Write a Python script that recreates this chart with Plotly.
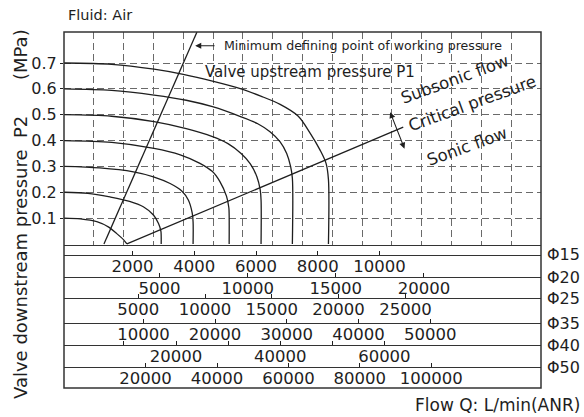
import plotly.graph_objects as go

# ---------------- data ----------------
p1_levels = [0.1, 0.2, 0.3, 0.4, 0.5, 0.6, 0.7]

# flow position (grid units of the chart) vs downstream pressure P2 (MPa), one curve per P1
q_p01 = [0.0, 0.55, 1.10, 1.50, 1.77, 2.00, 2.11]
p2_p01 = [0.100, 0.097, 0.086, 0.065, 0.040, 0.016, 0.0]

q_p02 = [0.0, 0.80, 1.54, 2.20, 2.66, 3.00, 3.17, 3.25, 3.26, 3.26]
p2_p02 = [0.200, 0.196, 0.182, 0.165, 0.144, 0.112, 0.079, 0.050, 0.030, 0.0]

q_p03 = [0.0, 1.20, 2.33, 3.00, 3.56, 3.95, 4.17, 4.30, 4.33, 4.33]
p2_p03 = [0.300, 0.294, 0.279, 0.260, 0.234, 0.205, 0.170, 0.120, 0.085, 0.0]

q_p04 = [0.0, 1.60, 3.02, 3.90, 4.56, 4.98, 5.23, 5.45, 5.53, 5.54, 5.54]
p2_p04 = [0.400, 0.393, 0.370, 0.345, 0.312, 0.280, 0.241, 0.185, 0.140, 0.110, 0.0]

q_p05 = [0.0, 1.60, 3.02, 4.10, 4.98, 5.50, 5.94, 6.25, 6.47, 6.58, 6.61, 6.61]
p2_p05 = [0.500, 0.494, 0.473, 0.446, 0.415, 0.388, 0.350, 0.310, 0.260, 0.210, 0.170, 0.0]

q_p06 = [0.0, 1.60, 3.02, 4.10, 4.98, 5.94, 6.50, 6.91, 7.25, 7.47, 7.60, 7.66, 7.66]
p2_p06 = [0.600, 0.594, 0.576, 0.556, 0.531, 0.492, 0.465, 0.434, 0.395, 0.350, 0.300, 0.255, 0.0]

q_p07 = [0.0, 1.60, 3.02, 4.00, 4.98, 5.94, 6.60, 7.25, 7.85, 8.26, 8.59, 8.79, 8.87, 8.87]
p2_p07 = [0.700, 0.695, 0.676, 0.656, 0.630, 0.600, 0.572, 0.540, 0.495, 0.428, 0.363, 0.312, 0.250, 0.0]

curve_q = [q_p01, q_p02, q_p03, q_p04, q_p05, q_p06, q_p07]
curve_p2 = [p2_p01, p2_p02, p2_p03, p2_p04, p2_p05, p2_p06, p2_p07]

critical_q = [2.11, 11.38]
critical_p2 = [0.0, 0.452]

minimum_q = [1.34, 4.46]
minimum_p2 = [0.0, 0.82]

y_tick_vals = [0.1, 0.2, 0.3, 0.4, 0.5, 0.6, 0.7]
y_tick_text = ["0.1", "0.2", "0.3", "0.4", "0.5", "0.6", "0.7"]

phi15_vals = [2000, 4000, 6000, 8000, 10000]
phi15_text = ["2000", "4000", "6000", "8000", "10000"]
phi20_vals = [5000, 10000, 15000, 20000]
phi20_text = ["5000", "10000", "15000", "20000"]
phi25_vals = [5000, 10000, 15000, 20000, 25000]
phi25_text = ["5000", "10000", "15000", "20000", "25000"]
phi35_vals = [10000, 20000, 30000, 40000, 50000]
phi35_text = ["10000", "20000", "30000", "40000", "50000"]
phi40_vals = [10000, 20000, 30000, 40000, 50000, 60000]
phi40_text = ["", "20000", "", "40000", "", "60000"]
phi50_vals = [20000, 40000, 60000, 80000, 100000]
phi50_text = ["20000", "40000", "60000", "80000", "100000"]

phi_names = ["\u03a615", "\u03a620", "\u03a625", "\u03a635", "\u03a640", "\u03a650"]

# ---------------- figure ----------------
FONT = "DejaVu Sans"
INK = "#1e1e1e"
W, H = 584, 417
L, R, T, B = 64, 43, 32, 29
plot_h = H - T - B  # 356


def py(px_y):
    """paper fraction for a pixel row inside the plot area"""
    return (H - B - px_y) / plot_h


fig = go.Figure()

for qs, ps in zip(curve_q, curve_p2):
    fig.add_trace(go.Scatter(x=qs, y=ps, mode="lines",
                             line=dict(color=INK, width=1.3, shape="spline", smoothing=0.9),
                             hoverinfo="skip", showlegend=False))

fig.add_trace(go.Scatter(x=critical_q, y=critical_p2, mode="lines",
                         line=dict(color=INK, width=1.3), hoverinfo="skip", showlegend=False))
fig.add_trace(go.Scatter(x=minimum_q, y=minimum_p2, mode="lines",
                         line=dict(color=INK, width=1.3), hoverinfo="skip", showlegend=False))

band_scales = [
    (phi15_vals, phi15_text, [-214, 15223], 255),
    (phi20_vals, phi20_text, [-426, 26646], 277),
    (phi25_vals, phi25_text, [-554, 35150], 298),
    (phi35_vals, phi35_text, [-1074, 65453], 323),
    (phi40_vals, phi40_text, [-1511, 90069], 345),
    (phi50_vals, phi50_text, [-2857, 130756], 367),
]

layout_axes = {}
annotations = []
for i, (vals, texts, rng, yline) in enumerate(band_scales):
    ax_name = "xaxis%d" % (i + 2)
    ref = "x%d" % (i + 2)
    fig.add_trace(go.Scatter(x=[vals[0]], y=[-1], xaxis=ref, yaxis="y", mode="markers",
                             marker=dict(size=0, opacity=0), hoverinfo="skip", showlegend=False))
    layout_axes[ax_name] = dict(
        overlaying="x", anchor="free", position=py(yline), side="bottom",
        range=rng, tickmode="array", tickvals=vals, ticktext=texts,
        ticks="inside", ticklen=4, tickcolor=INK, tickwidth=1,
        ticklabelstandoff=-4,
        showline=True, linecolor="#333", linewidth=1.3,
        showgrid=False, zeroline=False,
        tickfont=dict(family=FONT, size=16.5, color=INK),
    )
    annotations.append(dict(xref="paper", yref="paper", x=1.008, y=py(yline),
                            xanchor="left", yanchor="middle", showarrow=False,
                            text=phi_names[i], font=dict(family=FONT, size=16, color=INK)))

# text labels
annotations += [
    dict(xref="paper", yref="paper", x=0.004, y=py(15), xanchor="left", yanchor="middle",
         showarrow=False, text="Fluid: Air", font=dict(family=FONT, size=14.5, color=INK)),
    dict(xref="paper", yref="paper", x=(497 - L) / (W - L - R), y=py(405), xanchor="center",
         yanchor="middle", showarrow=False, text="Flow Q: L/min(ANR)",
         font=dict(family=FONT, size=17, color=INK)),
    dict(xref="paper", yref="paper", x=(20 - L) / (W - L - R), y=py(258), xanchor="center",
         yanchor="middle", showarrow=False, textangle=-90, text="Valve downstream pressure  P2",
         font=dict(family=FONT, size=18, color=INK)),
    dict(xref="paper", yref="paper", x=(20 - L) / (W - L - R), y=py(55), xanchor="center",
         yanchor="middle", showarrow=False, textangle=-90, text="(MPa)",
         font=dict(family=FONT, size=18, color=INK)),
    dict(x=5.30, y=0.767, xref="x", yref="y", xanchor="left", yanchor="middle", showarrow=False,
         text="Minimum defining point of working pressure", font=dict(family=FONT, size=12.6, color=INK)),
    dict(x=4.40, y=0.767, ax=5.10, ay=0.767, xref="x", yref="y", axref="x", ayref="y",
         text="", showarrow=True, arrowhead=2, arrowsize=1.1, arrowwidth=1.1, arrowcolor=INK),
    dict(x=4.66, y=0.665, xref="x", yref="y", xanchor="left", yanchor="middle", showarrow=False,
         text="Valve upstream pressure P1", font=dict(family=FONT, size=15, color=INK)),
    dict(x=13.09, y=0.638, xref="x", yref="y", showarrow=False, textangle=-20,
         text="Subsonic flow", font=dict(family=FONT, size=16.5, color=INK)),
    dict(x=13.69, y=0.545, xref="x", yref="y", showarrow=False, textangle=-20,
         text="Critical pressure", font=dict(family=FONT, size=16.5, color=INK)),
    dict(x=13.52, y=0.379, xref="x", yref="y", showarrow=False, textangle=-20,
         text="Sonic flow", font=dict(family=FONT, size=16.5, color=INK)),
    dict(x=10.94, y=0.51, ax=11.44, ay=0.363, xref="x", yref="y", axref="x", ayref="y",
         text="", showarrow=True, arrowhead=2, arrowside="end+start", arrowsize=1.1,
         arrowwidth=1.1, arrowcolor=INK),
]

fig.update_layout(
    width=W, height=H, autosize=False,
    margin=dict(l=L, r=R, t=T, b=B, pad=0),
    paper_bgcolor="white", plot_bgcolor="white",
    showlegend=False,
    xaxis=dict(range=[0, 16], dtick=1, tick0=0, showticklabels=False, ticks="",
               showgrid=True, gridcolor="#6a6a6a", gridwidth=1, griddash="7px,4px",
               zeroline=False, showline=True, linecolor="#333", linewidth=1.3),
    yaxis=dict(domain=[py(245), 1], range=[-0.004, 0.82], tickmode="array",
               tickvals=y_tick_vals, ticktext=y_tick_text, ticks="outside", ticklen=3,
               tickcolor=INK, showgrid=True, gridcolor="#6a6a6a", gridwidth=1,
               griddash="7px,4px", zeroline=False, showline=False,
               tickfont=dict(family=FONT, size=16, color=INK)),
    annotations=annotations,
    shapes=[dict(type="rect", xref="paper", yref="paper", x0=0, y0=0, x1=1, y1=1,
                 line=dict(color="#333", width=1.5), layer="above")],
    **layout_axes,
)

fig.write_html("out.html", config={"displayModeBar": False},
               post_script="document.body.style.margin='0';document.body.style.overflow='hidden';")
